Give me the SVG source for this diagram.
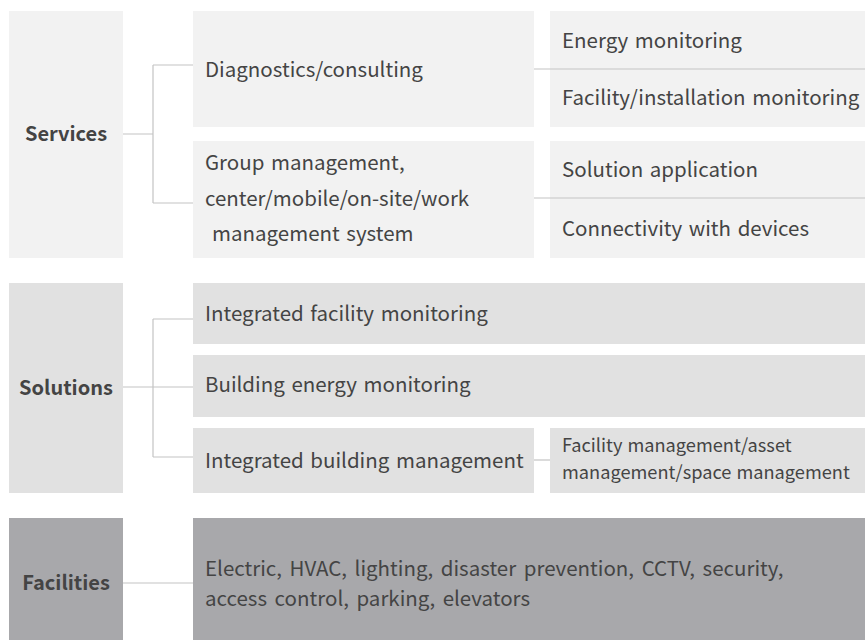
<svg xmlns="http://www.w3.org/2000/svg" width="865" height="640" viewBox="0 0 865 640">
<style>
.s{fill:#f2f2f2}
.o{fill:#e1e1e1}
.f{fill:#a8a8ab}
.t{font-family:"Noto Sans CJK KR","Noto Sans",sans-serif;font-size:20.5px;word-spacing:2px;fill:#444}
.w{word-spacing:3px}
.ts{font-family:"Noto Sans CJK KR","Noto Sans",sans-serif;font-size:18.2px;word-spacing:1px;fill:#444}
.b{font-family:"Noto Sans CJK KR","Noto Sans",sans-serif;font-size:20px;font-weight:bold;fill:#444;text-anchor:middle}
.c{stroke:#c4c4c4;stroke-width:1.2;fill:none}
</style>
<rect width="865" height="640" fill="#fff"/>
<g id="services"><rect class="s" x="9" y="11" width="114" height="247"/><text class="b" x="66" y="141">Services</text></g>
<g id="diagnostics"><rect class="s" x="193" y="11" width="341" height="116"/><text class="t" x="205" y="77">Diagnostics/consulting</text></g>
<g id="group"><rect class="s" x="193" y="141" width="341" height="117"/><text class="t" x="205" y="170">Group management,</text><text class="t" x="205" y="206">center/mobile/on-site/work</text><text class="t" x="212" y="241">management system</text></g>
<g id="monitoring"><rect class="s" x="550" y="11" width="315" height="116"/><text class="t" x="562" y="48">Energy monitoring</text><text class="t" x="562" y="105">Facility/installation monitoring</text></g>
<g id="application"><rect class="s" x="550" y="141" width="315" height="117"/><text class="t" x="562" y="177">Solution application</text><text class="t" x="562" y="236">Connectivity with devices</text></g>
<g id="solutions"><rect class="o" x="9" y="283" width="114" height="210"/><text class="b" x="66" y="395">Solutions</text></g>
<g id="ifm"><rect class="o" x="193" y="283" width="672" height="61"/><text class="t" x="205" y="321">Integrated facility monitoring</text></g>
<g id="bem"><rect class="o" x="193" y="355" width="672" height="62"/><text class="t" x="205" y="392">Building energy monitoring</text></g>
<g id="ibm"><rect class="o" x="193" y="428" width="341" height="65"/><text class="t" x="205" y="468">Integrated building management</text></g>
<g id="fam"><rect class="o" x="550" y="428" width="315" height="65"/><text class="ts" x="562" y="452">Facility management/asset</text><text class="ts" x="562" y="479">management/space management</text></g>
<g id="facilities"><rect class="f" x="9" y="518" width="114" height="122"/><text class="b" x="66" y="590">Facilities</text></g>
<g id="equipment"><rect class="f" x="193" y="518" width="672" height="122"/><text class="t w" x="205" y="576">Electric, HVAC, lighting, disaster prevention, CCTV, security,</text><text class="t w" x="205" y="606">access control, parking, elevators</text></g>
<g id="connectors">
<path class="c" d="M123 134H153M153 65V203M153 65H193M153 203H193"/>
<path class="c" d="M534 69H865M534 198H865"/>
<path class="c" d="M123 387H193M153 319V457M153 319H193M153 457H193"/>
<path class="c" d="M534 460H550"/>
<path class="c" d="M123 583H193"/>
</g>
</svg>
